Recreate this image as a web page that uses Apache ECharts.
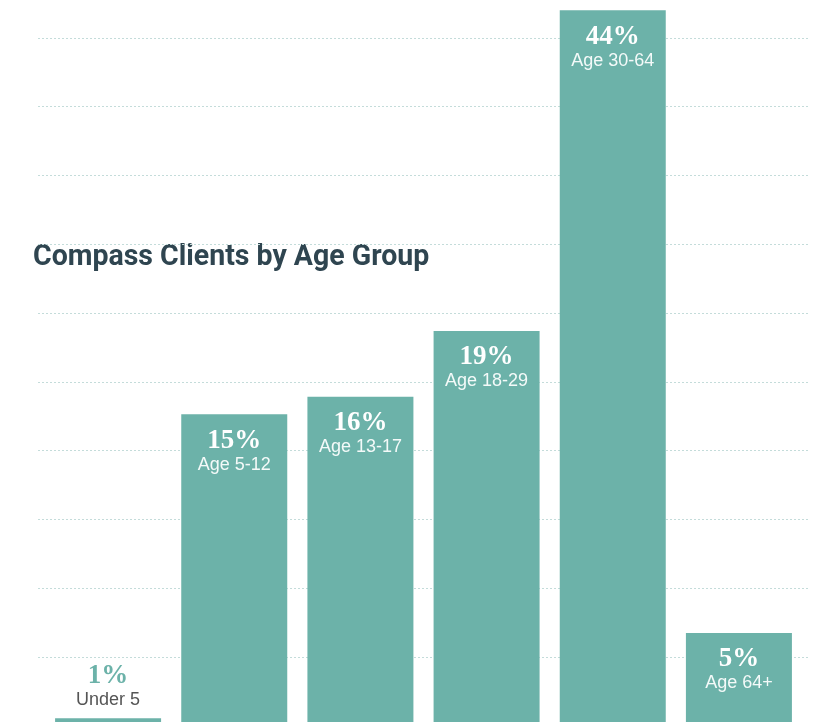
<!DOCTYPE html>
<html>
<head>
<meta charset="utf-8">
<script src="https://cdn.jsdelivr.net/npm/echarts@6/dist/echarts.min.js"></script>
<style>
  html, body { margin: 0; padding: 0; background: #fff; overflow: hidden; }
  /* chart is a bit taller than the window so the gridlines fall where the picture has them */
  #main { position: absolute; left: 0; top: -31px; width: 821px; height: 757px; }
</style>
</head>
<body>
<div id="main"></div>
<script>
// Compass clients by age group
const categories = ['Under 5', 'Age 5-12', 'Age 13-17', 'Age 18-29', 'Age 30-64', 'Age 64+']
const shares = [1, 15, 16, 19, 44, 5] // printed percentages
// bar heights as drawn, in gridline steps (the picture is not to scale)
const barHeights = [0.112, 4.53, 4.785, 5.74, 10.4, 1.351]
const gridSteps = 11

const teal = '#6cb2a9'
const chart = echarts.init(document.getElementById('main'))

const barData = barHeights.map(function(v, i) {
  const item = { value: v }
  if (i === 0) {
    // tiny bar: label sits above it
    item.label = {
      position: 'top',
      distance: 8,
      rich: {
        big: { color: teal },
        small: { color: '#555' }
      }
    }
  }
  return item
})

const option = {
  animation: false,
  graphic: [
    {
      type: 'text',
      left: 33,
      top: 273,
      scaleX: 0.95,
      style: {
        text: 'Compass Clients by Age Group',
        fontFamily: 'Roboto, "DejaVu Sans", sans-serif',
        fontWeight: 'bold',
        fontSize: 30,
        fill: '#2f4550'
      }
    }
  ],
  grid: [
    { left: 38, right: 11, top: 0, bottom: 0 }, // dotted lines
    { left: 45, right: 19, top: 0, bottom: 0 } // bars
  ],
  xAxis: [
    { gridIndex: 0, type: 'category', data: categories, show: false },
    { gridIndex: 1, type: 'category', data: categories, show: false }
  ],
  yAxis: [
    {
      gridIndex: 0,
      type: 'value',
      min: 0,
      max: gridSteps,
      interval: 1,
      axisLine: { show: false },
      axisTick: { show: false },
      axisLabel: { show: false },
      splitLine: {
        show: true,
        lineStyle: { color: '#c4dcda', type: [2, 2], width: 1 }
      }
    },
    {
      gridIndex: 1,
      type: 'value',
      min: 0,
      max: gridSteps,
      interval: 1,
      show: false,
      splitLine: { show: false }
    }
  ],
  series: [
    {
      type: 'bar',
      xAxisIndex: 1,
      yAxisIndex: 1,
      barWidth: 106,
      data: barData,
      itemStyle: { color: teal },
      label: {
        show: true,
        position: 'insideTop',
        distance: 13,
        align: 'center',
        formatter: function(p) {
          return '{big|' + shares[p.dataIndex] + '%}\n{small|' + p.name + '}'
        },
        rich: {
          big: {
            fontFamily: '"Liberation Serif", serif',
            fontWeight: 'bold',
            fontSize: 27,
            lineHeight: 27,
            color: '#fff'
          },
          small: {
            fontFamily: '"Liberation Sans", sans-serif',
            fontSize: 18,
            lineHeight: 21,
            color: '#f4faf9'
          }
        }
      }
    }
  ]
}

chart.setOption(option)
</script>
</body>
</html>
